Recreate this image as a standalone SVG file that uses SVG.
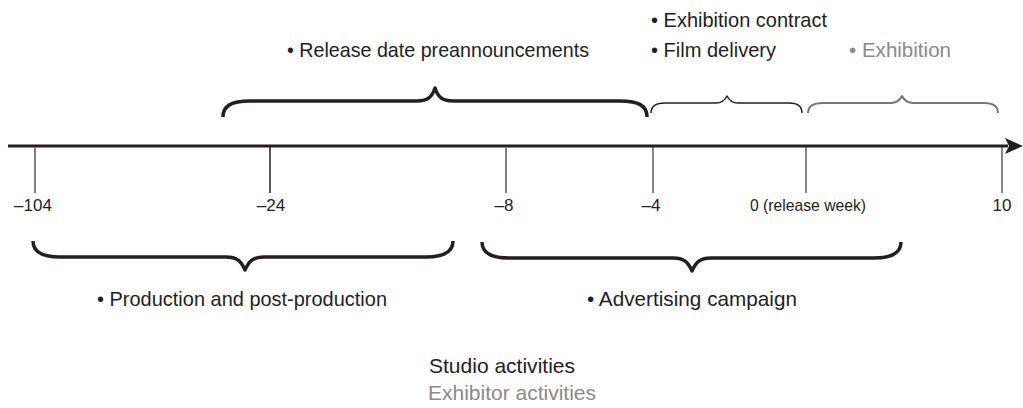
<svg xmlns="http://www.w3.org/2000/svg" width="1023" height="408" viewBox="0 0 1023 408">
  <style>
    .t { font-family: "Liberation Sans", Arial, sans-serif; font-size: 21px; fill: #231f20; }
    .g { fill: #8a8a8a; }
    .tick { font-family: "Liberation Sans", Arial, sans-serif; font-size: 17px; fill: #231f20; text-anchor: middle; }
    .brace { fill: none; stroke: #231f20; stroke-width: 3.5; stroke-linejoin: round; }
    .brace-thin { fill: none; stroke: #231f20; stroke-width: 1.5; stroke-linejoin: round; }
    .brace-grey { fill: none; stroke: #777777; stroke-width: 2; stroke-linejoin: round; }
    .tk-grey { stroke: #808080; stroke-width: 2; }
    .tk-dark { stroke: #444444; stroke-width: 1.3; }
    .tk-black { stroke: #231f20; stroke-width: 1.5; }
  </style>
  <defs>
    <marker id="arrow" markerUnits="userSpaceOnUse" markerWidth="18" markerHeight="18" viewBox="0 0 18 18" refX="3" refY="9" orient="auto">
      <path d="M0,1 L18,9 L0,17 L4,9 Z" fill="#231f20"/>
    </marker>
  </defs>

  <g id="connectors">
    <line x1="8" y1="146" x2="1008" y2="146" stroke="#231f20" stroke-width="3" marker-end="url(#arrow)"/>
  </g>

  <g id="tick-m104">
    <line class="tk-grey" x1="35" y1="147" x2="35" y2="193"/>
    <text class="tick" x="33" y="211">–104</text>
  </g>
  <g id="tick-m24">
    <line class="tk-black" x1="270" y1="147" x2="270" y2="193"/>
    <text class="tick" x="271" y="211">–24</text>
  </g>
  <g id="tick-m8">
    <line class="tk-grey" x1="506" y1="147" x2="506" y2="193"/>
    <text class="tick" x="504" y="211">–8</text>
  </g>
  <g id="tick-m4">
    <line class="tk-dark" x1="653" y1="147" x2="653" y2="193"/>
    <text class="tick" x="651" y="211">–4</text>
  </g>
  <g id="tick-0">
    <line class="tk-dark" x1="806" y1="147" x2="806" y2="193"/>
    <text class="tick" x="808" y="211" textLength="116" lengthAdjust="spacingAndGlyphs">0 (release week)</text>
  </g>
  <g id="tick-10">
    <line class="tk-dark" x1="1002" y1="147" x2="1002" y2="193"/>
    <text class="tick" x="1002" y="211">10</text>
  </g>

  <g id="release-date-preannouncements">
    <path class="brace" d="M223,117 C223,106 231,101 250,101 L417,101 C428,101 432,97 435,88 C438,97 442,101 453,101 L620,101 C639,101 647,106 647,117"/>
    <text class="t" x="287" y="56.5" textLength="302" lengthAdjust="spacingAndGlyphs">• Release date preannouncements</text>
  </g>

  <g id="exhibition-contract-film-delivery">
    <path class="brace-thin" d="M651,113 C651,106 656,103 665,103 L716,103 C722,103 725,100 727,96 C729,100 732,103 738,103 L789,103 C797,103 802,106 802,113"/>
    <text class="t" x="651" y="26.7" textLength="176" lengthAdjust="spacingAndGlyphs">• Exhibition contract</text>
    <text class="t" x="651" y="56.7" textLength="125" lengthAdjust="spacingAndGlyphs">• Film delivery</text>
  </g>

  <g id="exhibition">
    <path class="brace-grey" d="M808,113 C808,106 813,103 823,103 L891,103 C897,103 900,100 902,96 C904,100 907,103 913,103 L984,103 C993,103 998,106 998,113"/>
    <text class="t g" x="849" y="56.7" textLength="102" lengthAdjust="spacingAndGlyphs">• Exhibition</text>
  </g>

  <g id="production-and-post-production">
    <path class="brace" d="M33,241 C33,252 42,257 60,257 L226,257 C237,257 241,261 245,270 C249,261 253,257 264,257 L426,257 C444,257 453,252 453,241"/>
    <text class="t" x="97" y="305.5" textLength="290" lengthAdjust="spacingAndGlyphs">• Production and post-production</text>
  </g>

  <g id="advertising-campaign">
    <path class="brace" d="M482,242 C482,253 491,258 509,258 L673,258 C684,258 688,262 692,271 C696,262 700,258 711,258 L874,258 C892,258 901,253 901,242"/>
    <text class="t" x="587" y="305.5" textLength="210" lengthAdjust="spacingAndGlyphs">• Advertising campaign</text>
  </g>

  <g id="legend">
    <text class="t" x="429" y="373" textLength="146" lengthAdjust="spacingAndGlyphs">Studio activities</text>
    <text class="t g" x="428" y="400" textLength="168" lengthAdjust="spacingAndGlyphs">Exhibitor activities</text>
  </g>
</svg>
